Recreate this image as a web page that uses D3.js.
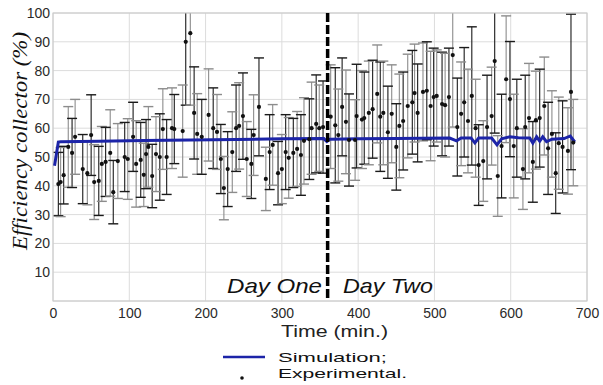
<!DOCTYPE html>
<html>
<head>
<meta charset="utf-8">
<script src="https://cdn.jsdelivr.net/npm/d3@7"></script>
<style>
  body { margin: 0; background: #fff; }
  svg { display: block; }
</style>
</head>
<body>
<div id="efficiency-graph"></div>
<script>
// Experimental points (time in min., efficiency in %, error bar half width)
const expTimes = [7, 10, 14, 20, 25, 29, 39, 45, 50, 54, 60, 64, 69, 75, 79, 85, 94, 98, 105, 109, 115, 119, 122, 125, 130, 135, 140, 144, 149, 156, 159, 170, 174, 180, 185, 189,
  195, 204, 210, 215, 220, 224, 229, 235, 240, 244, 249, 254, 260, 263, 270, 279, 284, 288, 295, 300, 305, 309, 315, 320, 325, 329, 336, 339, 345, 349, 354, 364, 370, 374, 379, 384, 388, 396, 398, 405, 408, 414, 419, 425, 429, 433, 439, 444, 450, 454,
  459, 465, 471, 474, 478, 485, 490, 495, 499, 503, 510, 514, 519, 524, 530, 535, 539, 544, 549, 554, 558, 564, 569, 575, 579, 583, 588, 594, 599, 604, 608, 616, 619, 624, 629, 633, 638, 644, 649, 654, 659, 663, 668, 675, 679, 682];

const expEff = [40.6, 41.3, 43.7, 53.5, 51.4, 57, 45.8, 44.4, 57.6, 41.3, 41.7, 47.6, 48.3, 51.4, 37.8, 48.6, 50, 49.3, 57, 47.6, 49, 43.8, 51, 53.5, 43.4, 51, 50, 59.7, 50, 60, 59.7, 59, 90, 93, 65.3, 58,
  57, 64.6, 60, 58.7, 49.3, 39.2, 45.8, 51.7, 60, 60.8, 64.2, 49.3, 47.6, 57.6, 67.4, 42.4, 51.7, 54.2, 44.4, 45.8, 51.7, 49.7, 51.4, 52.8, 50.7, 55.6, 56.2, 60, 61.5, 60, 60.4, 64, 61, 57.6, 67.4, 62.2, 55.9, 55.9, 64.2, 63, 63.5, 65.3, 66.6, 71.9, 64, 65.3, 58.6, 65, 53.5, 60.8,
  62.5, 67.7, 69, 72.2, 65.3, 72.6, 73, 67.7, 70.8, 71.2, 68.4, 68, 70.8, 85.4, 60.4, 65, 69, 62.5, 71.2, 60, 47.2, 48.6, 60.4, 64.2, 83.3, 43.4, 53.8, 77, 70.1, 53.8, 60, 45.8, 60.4, 63.5, 48.3, 62.8, 63.5, 67.7, 53, 58, 44.4, 54.8, 53.5, 52.1, 72.6, 55];

const expErr = [11, 12, 10, 14, 12, 13, 12, 11, 14, 13, 12, 13, 12, 15, 11, 13, 12, 14, 12, 15, 13, 11, 12, 14, 11, 13, 15, 14, 13, 14, 12, 16, 22, 25, 16, 14,
  13, 16, 14, 13, 12, 11, 13, 14, 15, 15, 15, 13, 12, 14, 17, 11, 13, 14, 11, 12, 13, 14, 12, 13, 14, 15, 14, 16, 17, 15, 16, 18, 20, 16, 17, 18, 16, 14, 18, 17, 16, 18, 17, 17, 19, 18, 16, 17, 15, 18,
  17, 18, 18, 17, 17, 17, 17, 19, 17, 16, 18, 18, 17, 25, 17, 18, 19, 18, 24, 17, 14, 14, 18, 17, 25, 14, 18, 22, 20, 18, 17, 14, 18, 19, 14, 17, 17, 17, 16, 15, 14, 16, 16, 15, 27, 15];

// Simulation curve
const simTimes = [2, 7, 10, 60, 120, 180, 240, 300, 355, 359, 363, 400, 450, 520, 529, 535, 548, 553, 558, 575, 582, 588, 599, 610, 625, 629, 634, 638, 642, 647, 654, 670, 678, 684];
const simEff = [47, 55.2, 55.3, 55.5, 55.7, 55.9, 56.1, 56.3, 56.4, 55.4, 56.2, 56.3, 56.4, 56.6, 55.6, 56.6, 56.6, 54.9, 56.6, 56.6, 54.2, 56.3, 57, 56.7, 56.6, 54.8, 57, 55.5, 57, 55.3, 56.2, 56.4, 57.3, 55.2];

const xTicks = [0, 100, 200, 300, 400, 500, 600, 700];
const yTicks = [10, 20, 30, 40, 50, 60, 70, 80, 90, 100];
const dayChange = 360;

const width = 603;
const height = 385;
const plotLeft = 53, plotRight = 587, plotTop = 13, plotBottom = 301;

const svg = d3.select("div#efficiency-graph")
  .append("svg")
  .attr("width", width)
  .attr("height", height);

const x = d3.scaleLinear().domain([0, 700]).range([plotLeft, plotRight]);
const y = d3.scaleLinear().domain([0, 100]).range([plotBottom, plotTop]);

// grid
svg.append("g")
  .selectAll("line.vgrid")
  .data(xTicks)
  .enter()
  .append("line")
  .attr("x1", d => x(d)).attr("x2", d => x(d))
  .attr("y1", plotTop).attr("y2", plotBottom)
  .attr("stroke", "#dcdcdc")
  .attr("stroke-width", 1);

svg.append("g")
  .selectAll("line.hgrid")
  .data([0].concat(yTicks))
  .enter()
  .append("line")
  .attr("x1", plotLeft).attr("x2", plotRight)
  .attr("y1", d => y(d)).attr("y2", d => y(d))
  .attr("stroke", "#dcdcdc")
  .attr("stroke-width", 1);

// axes (labels only, lines are the grid)
const xAxis = svg.append("g")
  .attr("transform", "translate(0," + plotBottom + ")")
  .call(d3.axisBottom(x).tickValues(xTicks).tickSize(0).tickPadding(7));
xAxis.select(".domain").remove();
xAxis.selectAll("text")
  .attr("font-family", "Liberation Sans, Arial, sans-serif")
  .attr("font-size", 14)
  .attr("fill", "#2a2a2a");

const yAxis = svg.append("g")
  .attr("transform", "translate(" + plotLeft + ",0)")
  .call(d3.axisLeft(y).tickValues(yTicks).tickSize(0).tickPadding(3));
yAxis.select(".domain").remove();
yAxis.selectAll("text")
  .attr("font-family", "Liberation Sans, Arial, sans-serif")
  .attr("font-size", 14)
  .attr("fill", "#2a2a2a");

// error bars, black and grey alternating
const pts = expTimes.map((t, i) => ({ t: t, v: expEff[i], e: expErr[i], i: i }));
const barColor = d => d.i % 2 === 0 ? "#1a1a1a" : "#8c8c8c";
const clipY = v => y(Math.max(0, Math.min(100, v)));

const bars = svg.append("g");
bars.selectAll("line.err")
  .data(pts)
  .enter()
  .append("line")
  .attr("x1", d => x(d.t)).attr("x2", d => x(d.t))
  .attr("y1", d => clipY(d.v - d.e))
  .attr("y2", d => clipY(d.v + d.e))
  .attr("stroke", barColor)
  .attr("stroke-width", 1.1);

bars.selectAll("line.capTop")
  .data(pts.filter(d => d.v + d.e <= 100))
  .enter()
  .append("line")
  .attr("x1", d => x(d.t) - 5).attr("x2", d => x(d.t) + 5)
  .attr("y1", d => y(d.v + d.e)).attr("y2", d => y(d.v + d.e))
  .attr("stroke", barColor)
  .attr("stroke-width", 1.4);

bars.selectAll("line.capBot")
  .data(pts)
  .enter()
  .append("line")
  .attr("x1", d => x(d.t) - 5).attr("x2", d => x(d.t) + 5)
  .attr("y1", d => y(d.v - d.e)).attr("y2", d => y(d.v - d.e))
  .attr("stroke", barColor)
  .attr("stroke-width", 1.4);

// plot frame
svg.append("rect")
  .attr("x", plotLeft).attr("y", plotTop)
  .attr("width", plotRight - plotLeft).attr("height", plotBottom - plotTop)
  .attr("fill", "none")
  .attr("stroke", "#c8c8c8")
  .attr("stroke-width", 1);

// simulation line
svg.append("path")
  .datum(simTimes.map((t, i) => [t, simEff[i]]))
  .attr("fill", "none")
  .attr("stroke", "#1c24a8")
  .attr("stroke-width", 3)
  .attr("d", d3.line().x(d => x(d[0])).y(d => y(d[1])));

// experimental points
svg.append("g")
  .selectAll("circle")
  .data(pts)
  .enter()
  .append("circle")
  .attr("cx", d => x(d.t))
  .attr("cy", d => y(d.v))
  .attr("r", 2.1)
  .attr("fill", "#111");

// day separator
svg.append("line")
  .attr("x1", x(dayChange)).attr("x2", x(dayChange))
  .attr("y1", y(100)).attr("y2", y(0))
  .attr("stroke", "#000")
  .attr("stroke-width", 3.5)
  .attr("stroke-dasharray", "9,3");

svg.append("text")
  .attr("x", 227).attr("y", 293)
  .attr("font-family", "Liberation Sans, Arial, sans-serif")
  .attr("font-style", "italic")
  .attr("font-size", 21)
  .attr("textLength", 95)
  .attr("lengthAdjust", "spacingAndGlyphs")
  .attr("fill", "#111")
  .text("Day One");

svg.append("text")
  .attr("x", 343).attr("y", 293)
  .attr("font-family", "Liberation Sans, Arial, sans-serif")
  .attr("font-style", "italic")
  .attr("font-size", 21)
  .attr("textLength", 90)
  .attr("lengthAdjust", "spacingAndGlyphs")
  .attr("fill", "#111")
  .text("Day Two");

// axis titles
svg.append("text")
  .attr("x", 281).attr("y", 337)
  .attr("font-family", "Liberation Sans, Arial, sans-serif")
  .attr("font-size", 16)
  .attr("textLength", 107)
  .attr("lengthAdjust", "spacingAndGlyphs")
  .attr("fill", "#222")
  .text("Time (min.)");

svg.append("text")
  .attr("transform", "translate(27,141)rotate(-90)")
  .attr("text-anchor", "middle")
  .attr("font-family", "Liberation Serif, Times New Roman, serif")
  .attr("font-style", "italic")
  .attr("font-size", 21)
  .attr("textLength", 218)
  .attr("lengthAdjust", "spacingAndGlyphs")
  .attr("fill", "#111")
  .text("Efficiency collector (%)");

// legend
svg.append("line")
  .attr("x1", 223).attr("x2", 265)
  .attr("y1", 357).attr("y2", 357)
  .attr("stroke", "#1c24a8")
  .attr("stroke-width", 2.5);

svg.append("circle")
  .attr("cx", 242).attr("cy", 378)
  .attr("r", 1.8)
  .attr("fill", "#111");

svg.append("text")
  .attr("x", 278).attr("y", 362)
  .attr("font-family", "Liberation Sans, Arial, sans-serif")
  .attr("font-size", 13)
  .attr("textLength", 109)
  .attr("lengthAdjust", "spacingAndGlyphs")
  .attr("fill", "#111")
  .text("Simulation;");

svg.append("text")
  .attr("x", 278).attr("y", 378)
  .attr("font-family", "Liberation Sans, Arial, sans-serif")
  .attr("font-size", 13)
  .attr("textLength", 129)
  .attr("lengthAdjust", "spacingAndGlyphs")
  .attr("fill", "#111")
  .text("Experimental.");
</script>
</body>
</html>
